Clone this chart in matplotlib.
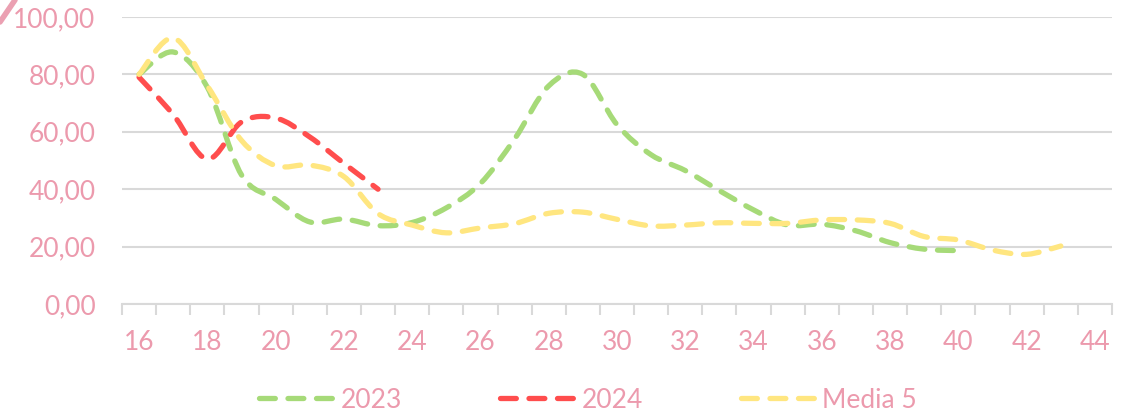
import numpy as np
import matplotlib.pyplot as plt
from matplotlib.path import Path
from matplotlib.patches import PathPatch
from matplotlib.lines import Line2D

# weeks on the category axis
weeks = list(range(16, 45))

# values
serie_2023 = [80, 87.8, 75.5, 45, 36.5, 28.6, 29.6, 27.3, 28.4, 33.5, 42, 57.5, 76, 80,
              62.5, 52, 46.5, 39.5, 32.8, 27.5, 27.8, 25.5, 21.4, 19.1, 18.6]
serie_2024 = [79, 66, 50.5, 63.4, 64.8, 58.2, 49, 40]
media_5 = [80, 92.7, 76, 57, 48.2, 48.4, 44.4, 31.5, 27.5, 24.8, 26.5, 28, 31.6, 32,
           29.5, 27.2, 27.5, 28.3, 28.1, 28.1, 29.3, 29.3, 28.1, 23.5, 22.3, 18.8, 17.3, 20.2]

names = ['2023', '2024', 'Media 5']
colors = ['#A6DA78', '#FF4D4D', '#FFE680']
pink = '#EC9AAD'
grid_col = '#D9D9D9'

plt.rcParams['font.family'] = ['Lato', 'DejaVu Sans']


def smooth_path(xs, ys):
    # Excel style smoothed line: cubic bezier through every point
    pts = np.column_stack([xs, ys]).astype(float)
    n = len(pts)
    verts = [pts[0]]
    codes = [Path.MOVETO]
    for i in range(n - 1):
        p0 = pts[i - 1] if i > 0 else pts[i]
        p1 = pts[i]
        p2 = pts[i + 1]
        p3 = pts[i + 2] if i + 2 < n else pts[i + 1]
        c1 = p1 + (p2 - p0) / 6.0
        c2 = p2 - (p3 - p1) / 6.0
        verts += [c1, c2, p2]
        codes += [Path.CURVE4] * 3
    return Path(verts, codes)


fig = plt.figure(figsize=(11.27, 4.17), dpi=100)
ax = fig.add_axes([122 / 1127, 1 - 304 / 417, 990 / 1127, 287 / 417])

dash = (0, (3, 2.4))
lw = 3.8
handles = []
for vals, name, col in zip([serie_2023, serie_2024, media_5], names, colors):
    xs = np.arange(len(vals))
    patch = PathPatch(smooth_path(xs, vals), fill=False, edgecolor=col, lw=lw,
                      linestyle=dash, capstyle='round', joinstyle='round', zorder=3)
    ax.add_patch(patch)
    handles.append(Line2D([], [], color=col, lw=lw, linestyle=dash,
                          dash_capstyle='round', label=name))

ax.set_xlim(-0.5, len(weeks) - 0.5)
ax.set_ylim(0, 100)

# y axis
ax.set_yticks(np.arange(0, 101, 20))
ax.set_yticklabels([f'{v:.2f}'.replace('.', ',') for v in np.arange(0, 101, 20)])
ax.grid(axis='y', color=grid_col, lw=1.5)
ax.set_axisbelow(True)
ax.tick_params(axis='y', length=0, pad=19, labelsize=19, labelcolor=pink)

# x axis: labels every other week, tick marks between categories
lab_pos = [i for i, w in enumerate(weeks) if w % 2 == 0]
ax.set_xticks(lab_pos)
ax.set_xticklabels([str(weeks[i]) for i in lab_pos])
ax.set_xticks(np.arange(-0.5, len(weeks)), minor=True)
ax.tick_params(axis='x', which='major', length=0, pad=19, labelsize=19, labelcolor=pink)
ax.tick_params(axis='x', which='minor', length=8, width=1.5, color=grid_col)

for s in ['top', 'right', 'left']:
    ax.spines[s].set_visible(False)
ax.spines['bottom'].set_color(grid_col)
ax.spines['bottom'].set_linewidth(1.5)

leg = fig.legend(handles=handles, loc='center', bbox_to_anchor=(588 / 1127, 17 / 417),
                 ncol=3, frameon=False, fontsize=19, handlelength=2.8,
                 columnspacing=3.7, handletextpad=0.3)
for t in leg.get_texts():
    t.set_color(pink)

# corner stroke of the chart frame
fig.add_artist(Line2D([0, 15 / 1127], [1 - 22 / 417, 1], transform=fig.transFigure,
                      color='#EBA0B2', lw=4, solid_capstyle='round'))

fig.savefig('out.png', dpi=100)
